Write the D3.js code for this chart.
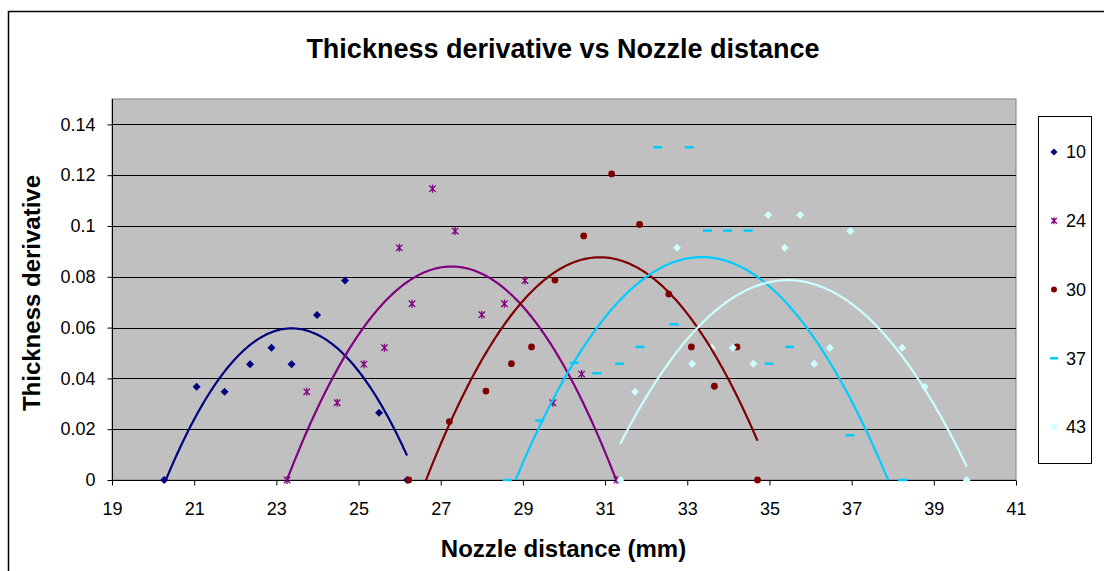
<!DOCTYPE html>
<html>
<head>
<meta charset="utf-8">
<script src="https://cdn.jsdelivr.net/npm/d3@7"></script>
<style>
  html, body { margin: 0; padding: 0; background: #fff; }
  svg { display: block; font-family: "Liberation Sans", Arial, sans-serif; }
</style>
</head>
<body>
<svg id="chart" width="1104" height="571"></svg>
<script>
// Measured thickness derivative per nozzle distance, one series per run
const seriesNames = ["10", "24", "30", "37", "43"];

const x10 = [20.27, 21.06, 21.74, 22.36, 22.88, 23.37, 23.99, 24.67, 25.50, 26.18];
const y10 = [0, 0.0367, 0.0347, 0.0456, 0.0521, 0.0456, 0.0650, 0.0785, 0.0265, 0];

const x24 = [23.26, 23.74, 24.48, 25.13, 25.63, 25.99, 26.30, 26.80, 27.35, 28.00, 28.55, 29.05, 29.73, 30.43, 31.29];
const y24 = [0, 0.0347, 0.0304, 0.0456, 0.0521, 0.0914, 0.0694, 0.1147, 0.0980, 0.0651, 0.0694, 0.0785, 0.0304, 0.0417, 0];

const x30 = [26.22, 27.21, 28.10, 28.72, 29.21, 29.78, 30.48, 31.16, 31.84, 32.55, 33.10, 33.66, 34.21, 34.71];
const y30 = [0, 0.0230, 0.0350, 0.0458, 0.0524, 0.0787, 0.0961, 0.1205, 0.1006, 0.0732, 0.0524, 0.0369, 0.0524, 0];

const x37 = [28.62, 29.41, 30.25, 30.80, 31.35, 31.85, 32.28, 32.68, 33.05, 33.49, 33.98, 34.48, 34.99, 35.49, 36.96, 38.24];
const y37 = [0, 0.0234, 0.0461, 0.0420, 0.0458, 0.0524, 0.1310, 0.0613, 0.1310, 0.0982, 0.0982, 0.0982, 0.0458, 0.0524, 0.0176, 0];

const x43 = [31.37, 31.73, 32.75, 33.12, 33.60, 34.11, 34.61, 34.97, 35.37, 35.75, 36.09, 36.47, 36.97, 38.23, 38.78, 39.80];
const y43 = [0, 0.0347, 0.0914, 0.0458, 0.0521, 0.0521, 0.0458, 0.1043, 0.0914, 0.1043, 0.0458, 0.0521, 0.0980, 0.0521, 0.0367, 0];

const xTicks = [19, 21, 23, 25, 27, 29, 31, 33, 35, 37, 39, 41];
const yTicks = [0, 0.02, 0.04, 0.06, 0.08, 0.1, 0.12, 0.14];

const colors = ["#000080", "#800080", "#800000", "#00CCFF", "#CCFFFF"];
const markers = ["diamond", "star", "circle", "dash", "diamond"];

const series = seriesNames.map((name, i) => {
  const xs = [x10, x24, x30, x37, x43][i];
  const ys = [y10, y24, y30, y37, y43][i];
  return { name, color: colors[i], marker: markers[i], points: xs.map((x, j) => ({ x, y: ys[j] })) };
});

// Second-order polynomial least-squares trendline
function quadFit(pts) {
  let n = pts.length, sx = 0, sx2 = 0, sx3 = 0, sx4 = 0, sy = 0, sxy = 0, sx2y = 0;
  const m = d3.mean(pts, p => p.x);
  pts.forEach(p => {
    const x = p.x - m, y = p.y;
    sx += x; sx2 += x * x; sx3 += x * x * x; sx4 += x * x * x * x;
    sy += y; sxy += x * y; sx2y += x * x * y;
  });
  const A = [[n, sx, sx2, sy], [sx, sx2, sx3, sxy], [sx2, sx3, sx4, sx2y]];
  for (let c = 0; c < 3; c++) {
    for (let r = c + 1; r < 3; r++) {
      const f = A[r][c] / A[c][c];
      for (let k = c; k < 4; k++) A[r][k] -= f * A[c][k];
    }
  }
  const b = [0, 0, 0];
  for (let r = 2; r >= 0; r--) {
    let s = A[r][3];
    for (let k = r + 1; k < 3; k++) s -= A[r][k] * b[k];
    b[r] = s / A[r][r];
  }
  return x => b[0] + b[1] * (x - m) + b[2] * (x - m) * (x - m);
}

const svg = d3.select("#chart");
const W = 1104, H = 571;
const plot = { left: 112, top: 99, right: 1016, bottom: 480 };

svg.append("rect").attr("width", W).attr("height", H).attr("fill", "#fff");
// chart area frame
svg.append("rect").attr("x", 8.5).attr("y", 11.5).attr("width", 1200).attr("height", 700)
  .attr("fill", "none").attr("stroke", "#000").attr("stroke-width", 1.5);

const x = d3.scaleLinear().domain([19, 41]).range([plot.left, plot.right]);
const y = d3.scaleLinear().domain([0, 0.15]).range([plot.bottom, plot.top]);

// plot area
svg.append("rect").attr("x", plot.left).attr("y", plot.top)
  .attr("width", plot.right - plot.left).attr("height", plot.bottom - plot.top)
  .attr("fill", "#C0C0C0").attr("stroke", "#808080").attr("stroke-width", 1);

// horizontal gridlines
svg.append("g").selectAll("line").data(yTicks.filter(t => t > 0)).join("line")
  .attr("x1", plot.left).attr("x2", plot.right)
  .attr("y1", d => Math.round(y(d)) + 0.5).attr("y2", d => Math.round(y(d)) + 0.5)
  .attr("stroke", "#000").attr("stroke-width", 1);

// axes
const xAxis = d3.axisBottom(x).tickValues(xTicks).tickSize(5).tickPadding(17).tickFormat(d3.format("d"));
const yAxis = d3.axisLeft(y).tickValues(yTicks).tickSize(5).tickPadding(12).tickFormat(d => d === 0 ? "0" : String(+d.toFixed(2)));

const gx = svg.append("g").attr("transform", `translate(0,${plot.bottom + 0.5})`).call(xAxis);
const gy = svg.append("g").attr("transform", `translate(${plot.left + 0.5},0)`).call(yAxis);
[gx, gy].forEach(g => {
  g.select(".domain").attr("stroke", "#000").attr("stroke-width", 1);
  g.selectAll(".tick line").attr("stroke", "#000");
  g.selectAll("text").attr("fill", "#000").attr("font-size", 18)
    .attr("font-family", "'Liberation Sans', Arial, sans-serif");
});
gx.select(".domain").attr("d", `M${plot.left},0H${plot.right}`);
gy.select(".domain").attr("d", `M0,${plot.top}V${plot.bottom}`);

// clip for trendlines
svg.append("defs").append("clipPath").attr("id", "plotClip")
  .append("rect").attr("x", plot.left).attr("y", plot.top)
  .attr("width", plot.right - plot.left).attr("height", plot.bottom - plot.top);

function drawMarker(g, type, color, size) {
  const s = size;
  if (type === "diamond") {
    g.append("path").attr("d", `M0,${-s}L${s},0L0,${s}L${-s},0Z`).attr("fill", color);
  } else if (type === "circle") {
    g.append("circle").attr("r", s * 0.85).attr("fill", color);
  } else if (type === "dash") {
    g.append("line").attr("x1", -s - 0.5).attr("x2", s + 0.5).attr("y1", 0).attr("y2", 0)
      .attr("stroke", color).attr("stroke-width", 2.5);
  } else if (type === "star") {
    const a = s * 0.8;
    g.append("path").attr("d", `M${-a},${-a}L${a},${a}M${-a},${a}L${a},${-a}M0,${-s}L0,${s}`)
      .attr("stroke", color).attr("stroke-width", 1.3).attr("fill", "none");
  }
}

// markers
series.forEach(s => {
  const g = svg.append("g");
  s.points.forEach(p => {
    const m = g.append("g").attr("transform", `translate(${x(p.x)},${y(p.y)})`);
    drawMarker(m, s.marker, s.color, 4);
  });
});

// trendlines over the data range of each series
const trendG = svg.append("g").attr("clip-path", "url(#plotClip)");
series.forEach(s => {
  const f = quadFit(s.points);
  const [x0, x1] = d3.extent(s.points, p => p.x);
  const xs = d3.range(0, 201).map(i => x0 + (x1 - x0) * i / 200);
  const line = d3.line().x(d => x(d)).y(d => y(f(d)));
  trendG.append("path").attr("d", line(xs)).attr("fill", "none")
    .attr("stroke", s.color).attr("stroke-width", 2.2);
});

// title and axis titles
svg.append("text").attr("x", 563).attr("y", 58).attr("text-anchor", "middle")
  .attr("font-size", 27).attr("font-weight", "bold").text("Thickness derivative vs Nozzle distance");
svg.append("text").attr("x", 563.5).attr("y", 557).attr("text-anchor", "middle")
  .attr("font-size", 24).attr("font-weight", "bold").text("Nozzle distance (mm)");
svg.append("text").attr("transform", "translate(40,293) rotate(-90)").attr("text-anchor", "middle")
  .attr("font-size", 24).attr("font-weight", "bold").text("Thickness derivative");

// legend
const legend = svg.append("g");
legend.append("rect").attr("x", 1038.5).attr("y", 116.5).attr("width", 53).attr("height", 347)
  .attr("fill", "#fff").attr("stroke", "#000").attr("stroke-width", 1);
const ly = d3.scalePoint().domain(seriesNames).range([152, 427]);
series.forEach(s => {
  const m = legend.append("g").attr("transform", `translate(1054,${ly(s.name)})`);
  drawMarker(m, s.marker, s.color, 3.5);
  legend.append("text").attr("x", 1066).attr("y", ly(s.name)).attr("dy", "0.35em")
    .attr("font-size", 18).text(s.name);
});
</script>
</body>
</html>
